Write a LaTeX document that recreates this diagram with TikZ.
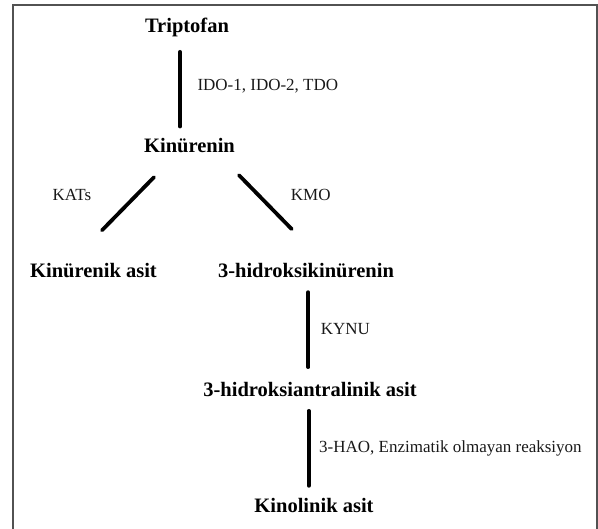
\documentclass[tikz,border=0pt]{standalone}
\usepackage{fontspec}
\setmainfont{Liberation Serif}
\usepackage{tikz}

\begin{document}
\begin{tikzpicture}[x=1pt,y=-1pt,
	chat/.style={anchor=base,inner sep=0pt,text height=14.5pt,text depth=4.5pt,font=\fontsize{20.5}{24}\selectfont\bfseries},
	enzim/.style={anchor=base west,inner sep=0pt,text=black!90,font=\fontsize{17}{20}\selectfont},
	link/.style={line width=3.8pt,line cap=round},
	khung/.style={draw=black!68,line width=2pt}]
	\useasboundingbox (0,0) rectangle (598,529);
	% Vẽ khung
	\draw[khung] (13,540) -- (13,5) -- (597,5) -- (597,540);
	% Các chất
	\node[chat] (trip) at (187,32.7) {Triptofan};
	\node[chat] (kin) at (189.5,153) {Kinürenin};
	\node[chat] (kenik) at (93.5,277.5) {Kinürenik asit};
	\node[chat] (hkin) at (306,277.5) {3-hidroksikinürenin};
	\node[chat] (hant) at (310,396.7) {3-hidroksiantralinik asit};
	\node[chat] (kinol) at (314,512.5) {Kinolinik asit};
	% Các đường nối
	\draw[link] ([shift={(-7,14.5)}]trip.south) -- ([shift={(-9.5,-11.8)}]kin.north);
	\draw[link] ([shift={(-35.5,19.5)}]kin.south) -- ([shift={(8.5,-32.5)}]kenik.north);
	\draw[link] ([shift={(49.5,17.5)}]kin.south) -- ([shift={(-14.3,-33.7)}]hkin.north);
	\draw[link] ([shift={(2.3,10)}]hkin.south) -- ([shift={(-1.7,-14.9)}]hant.north);
	\draw[link] ([shift={(-1.3,9.5)}]hant.south) -- ([shift={(-5.3,-12)}]kinol.north);
	% Tên enzym
	\node[enzim] (ido) at (197.3,90.7) {IDO-1, IDO-2, TDO};
	\node[enzim] (kat) at (52.5,200.7) {KATs};
	\node[enzim] (kmo) at (290.7,200.7) {KMO};
	\node[enzim] (kynu) at (320.7,335) {KYNU};
	\node[enzim] (hao) at (319,453) {3-HAO, Enzimatik olmayan reaksiyon};
\end{tikzpicture}
\end{document}
